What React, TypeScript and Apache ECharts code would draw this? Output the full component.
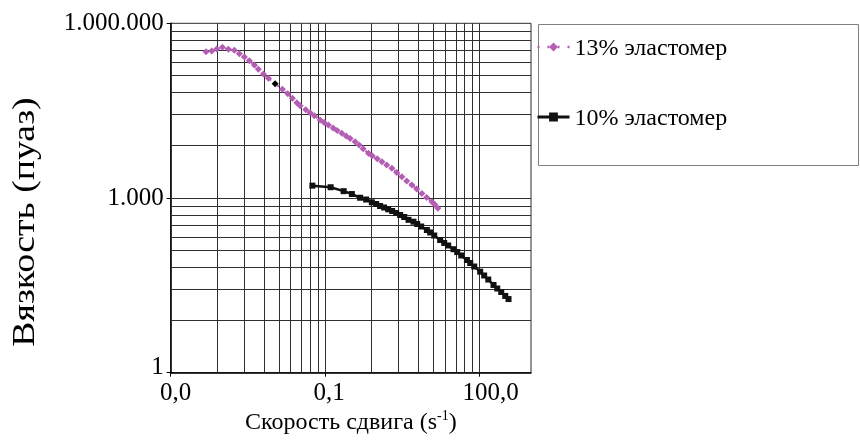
import React, { useEffect, useRef } from 'react';
import * as echarts from 'echarts';

const SERIES_NAMES = ['13% эластомер', '10% эластомер'];

// 13% elastomer: shear rate (1/s) and viscosity (poise)
const SHEAR_13 = [0.000486, 0.000627, 0.000784, 0.00101, 0.00132, 0.00172, 0.00216, 0.0027, 0.00338, 0.00422, 0.00505, 0.00632, 0.0079, 0.0107, 0.0148, 0.0188, 0.0231, 0.0282, 0.0327, 0.0421, 0.0511, 0.0619, 0.0799, 0.0956, 0.116, 0.143, 0.171, 0.211, 0.256, 0.306, 0.383, 0.458, 0.548, 0.695, 0.82, 1.03, 1.27, 1.57, 1.98, 2.46, 3.1, 3.84, 4.85, 6.01, 7.59, 9.41, 11.9, 13.5, 15.5];
const VISC_13 = [325000, 334000, 362000, 387000, 358000, 344000, 301000, 264000, 228000, 192000, 162000, 135000, 114000, 91800, 73600, 61800, 51500, 43300, 38500, 32800, 29200, 25900, 21900, 19800, 17900, 15900, 14400, 12900, 11600, 10500, 9260, 8130, 7020, 5850, 5330, 4710, 4200, 3690, 3240, 2740, 2320, 1960, 1670, 1430, 1200, 1020, 864, 773, 666];
const BLACK_POINT_13 = 13;

// 10% elastomer
const SHEAR_10 = [0.0566, 0.128, 0.229, 0.331, 0.479, 0.627, 0.809, 0.981, 1.17, 1.4, 1.68, 2.01, 2.4, 2.87, 3.44, 4.17, 5.21, 6.15, 7.36, 9.49, 11.0, 13.2, 17.2, 20.6, 24.6, 31.2, 36.9, 44.1, 56.9, 66.0, 78.9, 103, 123, 148, 187, 221, 264, 316, 366];
const VISC_10 = [1630, 1530, 1310, 1170, 1010, 942, 844, 789, 729, 687, 639, 598, 553, 511, 472, 422, 392, 358, 324, 282, 256, 227, 190, 169, 153, 132, 118, 103, 86.2, 76.5, 66.6, 54.3, 46.7, 39.8, 32.1, 27.9, 24.3, 20.8, 18.4];

const X_TICK_VALUES = [0.0001, 0.1, 100];
const X_TICK_LABELS = ['0,0', '0,1', '100,0'];
const Y_TICK_VALUES = [1, 1000, 1000000];
const Y_TICK_LABELS = ['1', '1.000', '1.000.000'];
const X_RANGE = [0.0001, 1000];
const Y_RANGE = [1, 1000000];
const LOG_BASE = 1000;
const MINOR_FACTORS = [2, 3, 4, 5, 6, 7, 8, 9];

const X_NAME = 'Скорость сдвига (s{sup|-1})';
const Y_NAME = 'Вязкость (пуаз)';

const FONT = 'Liberation Serif';

export default function App() {
  const ref = useRef<HTMLDivElement>(null);

  useEffect(() => {
    if (!ref.current) return;
    const chart = echarts.init(ref.current, null, { renderer: 'svg' });
    const lg = Math.log10;
    const baseLog = lg(LOG_BASE);

    const gridPositions = (majors: number[], lo: number, hi: number) => {
      const out: number[] = [];
      majors.forEach((m, i) => {
        out.push(lg(m));
        if (i < majors.length - 1) MINOR_FACTORS.forEach((k) => out.push(lg(m) + baseLog * lg(k)));
      });
      return out.filter((u) => u > lo + 1e-6 && u < hi - 1e-6);
    };

    const xMin = lg(X_RANGE[0]);
    const xMax = lg(X_RANGE[1]);
    const yMin = lg(Y_RANGE[0]);
    const yMax = lg(Y_RANGE[1]);
    const xTicks = X_TICK_VALUES.map(lg);
    const yTicks = Y_TICK_VALUES.map(lg);
    const xGrid = gridPositions(X_TICK_VALUES, xMin, xMax);
    const yGrid = gridPositions(Y_TICK_VALUES, yMin, yMax);

    const idx = (arr: number[], v: number) => arr.findIndex((t) => Math.abs(t - v) < 1e-6);

    const s13 = SHEAR_13.map((x, i) => {
      const p = [lg(x), lg(VISC_13[i])];
      return i === BLACK_POINT_13 ? { value: p, itemStyle: { color: '#000' } } : p;
    });
    const s10 = SHEAR_10.map((x, i) => [lg(x), lg(VISC_10[i])]);

    const labelBase = { fontFamily: FONT, fontSize: 25, color: '#000' };

    const option: any = {
      animation: false,
      textStyle: { fontFamily: FONT },
      grid: {
        left: 170.7,
        right: 329,
        top: 23.3,
        bottom: 68.3,
        show: true,
        borderColor: '#2a2a2a',
        borderWidth: 1,
        backgroundColor: 'transparent',
      },
      xAxis: {
        type: 'value',
        min: xMin,
        max: xMax,
        axisLine: { show: true, onZero: false, lineStyle: { color: '#000', width: 1.5 } },
        axisTick: { show: true, length: 4, customValues: xTicks, lineStyle: { color: '#000' } },
        axisLabel: {
          customValues: xTicks,
          margin: 6,
          ...labelBase,
          formatter: (v: number) => {
            const i = idx(xTicks, v);
            return i < 0 ? '' : `{x${i}|${X_TICK_LABELS[i]}}`;
          },
          rich: {
            x0: { ...labelBase, padding: [0, 0, 0, 10] },
            x1: { ...labelBase, padding: [0, 0, 0, 8] },
            x2: { ...labelBase, padding: [0, 0, 0, 22] },
          },
        },
        splitLine: { show: false },
        name: X_NAME,
        nameLocation: 'middle',
        nameGap: 36,
        nameTextStyle: {
          fontFamily: FONT,
          fontSize: 24,
          color: '#000',
          rich: {
            sup: { fontFamily: FONT, fontSize: 14, color: '#000', verticalAlign: 'top', padding: [0, 0, 8, 0] },
          },
        },
      },
      yAxis: {
        type: 'value',
        min: yMin,
        max: yMax,
        axisLine: { show: true, onZero: false, lineStyle: { color: '#000', width: 1.5 } },
        axisTick: { show: true, length: 4, customValues: yTicks, lineStyle: { color: '#000' } },
        axisLabel: {
          customValues: yTicks,
          margin: 7,
          ...labelBase,
          formatter: (v: number) => {
            const i = idx(yTicks, v);
            return i < 0 ? '' : `{y${i}|${Y_TICK_LABELS[i]}}`;
          },
          rich: {
            y0: { ...labelBase, padding: [0, 0, 14, 0] },
            y1: { ...labelBase, padding: [0, 0, 3, 0] },
            y2: { ...labelBase, padding: [0, 0, 3, 0] },
          },
        },
        splitLine: { show: false },
      },
      legend: {
        orient: 'vertical',
        left: 536,
        top: 35,
        padding: 0,
        itemGap: 46,
        itemWidth: 32,
        itemHeight: 11,
        itemTextGap: 0,
        selectedMode: false,
        z: 5,
        textStyle: { fontFamily: FONT, fontSize: 24, color: '#000', lineHeight: 24 },
        data: [
          { name: SERIES_NAMES[0], lineStyle: { width: 2.5, type: [2, 8] } },
          { name: SERIES_NAMES[1], lineStyle: { width: 3 } },
        ],
      },
      graphic: [
        {
          type: 'rect',
          z: 0,
          shape: { x: 538.5, y: 24.5, width: 320, height: 141 },
          style: { fill: '#fff', stroke: '#808080', lineWidth: 1 },
        },
        {
          type: 'text',
          x: 23.5,
          y: 222,
          rotation: Math.PI / 2,
          scaleX: 1.22,
          style: {
            text: Y_NAME,
            fontFamily: FONT,
            fontSize: 31,
            fill: '#000',
            align: 'center',
            verticalAlign: 'middle',
          },
        },
      ],
      series: [
        {
          type: 'line',
          name: '__grid',
          data: [],
          z: 1,
          silent: true,
          markLine: {
            silent: true,
            z: 1,
            symbol: ['none', 'none'],
            label: { show: false },
            emphasis: { disabled: true },
            lineStyle: { color: '#2e2e2e', width: 1, type: 'solid' },
            data: [...xGrid.map((u) => ({ xAxis: u })), ...yGrid.map((u) => ({ yAxis: u }))],
          },
        },
        {
          type: 'line',
          name: SERIES_NAMES[0],
          data: s13,
          z: 4,
          symbol: 'diamond',
          symbolSize: 7,
          color: '#b35eb3',
          itemStyle: { color: '#b35eb3' },
          lineStyle: { color: '#b35eb3', width: 2, type: [2, 3] },
        },
        {
          type: 'line',
          name: SERIES_NAMES[1],
          data: s10,
          z: 4,
          symbol: 'rect',
          symbolSize: 6,
          color: '#111',
          itemStyle: { color: '#111' },
          lineStyle: { color: '#111', width: 2.5 },
        },
      ],
    };

    chart.setOption(option);
    return () => chart.dispose();
  }, []);

  return <div ref={ref} style={{ position: 'fixed', left: 0, top: 0, width: 860, height: 441 }} />;
}
